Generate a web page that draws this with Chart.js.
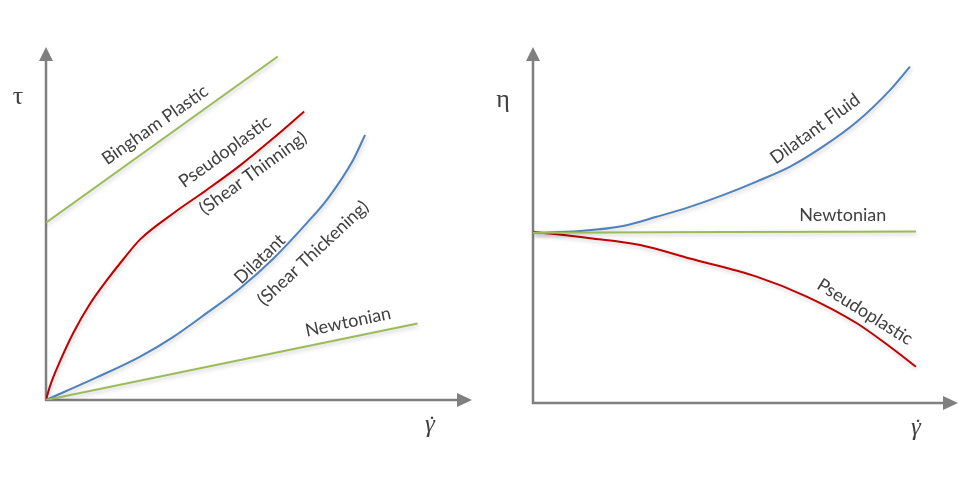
<!DOCTYPE html>
<html>
<head>
<meta charset="utf-8">
<script src="https://cdn.jsdelivr.net/npm/chart.js@4"></script>
<style>
  body { margin: 0; background: #fff; }
  .panel { position: absolute; top: 0; }
</style>
</head>
<body>
<div class="panel" style="left:0"><canvas id="stress" width="486" height="479"></canvas></div>
<div class="panel" style="left:486px"><canvas id="viscosity" width="487" height="479"></canvas></div>
<script>
// ---- data (arbitrary units, shear rate 0..10) ----
// left panel: shear stress vs shear rate
const stressNewtonianX = [0, 8.72];
const stressNewtonianY = [0, 2.17];
const binghamX = [0, 5.44];
const binghamY = [5.02, 9.73];
const pseudoX = [0, 0.09, 0.33, 0.64, 1.03, 1.42, 1.81, 2.21, 2.99, 3.77, 4.55, 5.34, 6.06];
const pseudoY = [0, 0.38, 1.10, 1.90, 2.72, 3.38, 3.98, 4.55, 5.29, 5.95, 6.64, 7.42, 8.17];
const dilatantX = [0, 1.19, 2.21, 2.99, 3.77, 4.55, 5.34, 6.12, 6.61, 7.21, 7.49];
const dilatantY = [0, 0.64, 1.23, 1.79, 2.46, 3.16, 4.01, 5.01, 5.70, 6.80, 7.51];

// right panel: viscosity vs shear rate
const viscNewtonianX = [0, 4.5, 9.01];
const viscNewtonianY = [4.78, 4.80, 4.82];
const viscDilatantX = [0, 1.11, 2.12, 2.91, 3.69, 4.47, 5.26, 6.05, 6.82, 7.62, 8.40, 8.87];
const viscDilatantY = [4.78, 4.83, 4.97, 5.23, 5.51, 5.84, 6.22, 6.64, 7.20, 7.90, 8.79, 9.45];
const viscPseudoX = [0, 1.34, 2.52, 3.69, 5.26, 6.44, 7.62, 8.40, 9.01];
const viscPseudoY = [4.81, 4.63, 4.44, 4.06, 3.55, 2.99, 2.24, 1.58, 1.02];

const GREEN = '#9bbb59', RED = '#c00000', BLUE = '#4f81bd', AXIS = '#7f7f7f', TEXT = '#404040';

function pts(xs, ys) {
    return xs.map((x, i) => ({ x: x, y: ys[i] }));
}

function series(label, xs, ys, color) {
    return {
        label: label,
        data: pts(xs, ys),
        borderColor: color,
        borderWidth: 2,
        pointRadius: 0,
        fill: false,
        tension: 0.4,
        cubicInterpolationMode: 'monotone'
    };
}

// axes with arrows, axis symbols, curve labels
const decor = {
    id: 'decor',
    beforeDatasetsDraw(chart, args, opts) {
        const { ctx, chartArea: a } = chart;
        ctx.save();
        ctx.strokeStyle = AXIS;
        ctx.fillStyle = AXIS;
        ctx.lineWidth = 2.5;
        ctx.beginPath();
        ctx.moveTo(a.left, a.bottom + 1);
        ctx.lineTo(a.left, a.top + 12);
        ctx.moveTo(a.left - 1, a.bottom);
        ctx.lineTo(a.right - 12, a.bottom);
        ctx.stroke();
        // arrow heads
        ctx.beginPath();
        ctx.moveTo(a.left, a.top);
        ctx.lineTo(a.left - 7, a.top + 14);
        ctx.lineTo(a.left + 7, a.top + 14);
        ctx.closePath();
        ctx.moveTo(a.right, a.bottom);
        ctx.lineTo(a.right - 15, a.bottom - 7);
        ctx.lineTo(a.right - 15, a.bottom + 7);
        ctx.closePath();
        ctx.fill();
        ctx.restore();

        // soft shadow under the curves
        ctx.save();
        ctx.shadowColor = 'rgba(0,0,0,0.22)';
        ctx.shadowBlur = 4;
        ctx.shadowOffsetX = 1;
        ctx.shadowOffsetY = 2;
    },
    afterDatasetsDraw(chart) {
        chart.ctx.restore();
    },
    afterDraw(chart, args, opts) {
        const { ctx, chartArea: a, scales: { x, y } } = chart;
        ctx.save();
        ctx.fillStyle = TEXT;
        ctx.textAlign = 'center';
        ctx.textBaseline = 'middle';
        // axis symbols
        ctx.font = '26px "Liberation Serif"';
        ctx.fillText(opts.yTitle, a.left - opts.yTitleDx, a.top + opts.yTitleDy);
        const gx = a.right - 42, gy = a.bottom + 25;
        ctx.font = 'italic 25px "Liberation Serif"';
        ctx.fillText('\u03B3', gx, gy);
        ctx.font = '24px "Liberation Serif"';
        ctx.fillText('\u02D9', gx + 2, gy + 1);
        // curve labels
        ctx.font = '18px Lato';
        opts.labels.forEach(l => {
            ctx.save();
            ctx.translate(x.getPixelForValue(l.x), y.getPixelForValue(l.y));
            ctx.rotate(l.angle * Math.PI / 180);
            ctx.fillText(l.text, 0, 0);
            ctx.restore();
        });
        ctx.restore();
    }
};

function makeChart(id, datasets, padding, decorOpts) {
    return new Chart(document.getElementById(id), {
        type: 'line',
        data: { datasets: datasets },
        options: {
            responsive: false,
            animation: false,
            layout: { padding: padding },
            scales: {
                x: { type: 'linear', min: 0, max: 10, display: false },
                y: { type: 'linear', min: 0, max: 10, display: false }
            },
            plugins: {
                legend: { display: false },
                tooltip: { enabled: false },
                decor: decorOpts
            }
        },
        plugins: [decor]
    });
}

makeChart('stress', [
    series('Newtonian', stressNewtonianX, stressNewtonianY, GREEN),
    series('Bingham Plastic', binghamX, binghamY, GREEN),
    series('Dilatant', dilatantX, dilatantY, BLUE),
    series('Pseudoplastic', pseudoX, pseudoY, RED)
], { left: 46, right: 14, top: 47, bottom: 79 }, {
    yTitle: '\u03C4', yTitleDx: 28, yTitleDy: 50,
    labels: [
        { text: 'Bingham Plastic', x: 2.56, y: 7.79, angle: -35 },
        { text: 'Pseudoplastic', x: 4.20, y: 7.03, angle: -36 },
        { text: '(Shear Thinning)', x: 4.86, y: 6.43, angle: -36 },
        { text: 'Dilatant', x: 5.02, y: 3.99, angle: -44 },
        { text: '(Shear Thickening)', x: 6.27, y: 4.16, angle: -43 },
        { text: 'Newtonian', x: 7.09, y: 2.21, angle: -12 }
    ]
});

makeChart('viscosity', [
    series('Newtonian', viscNewtonianX, viscNewtonianY, GREEN),
    series('Dilatant Fluid', viscDilatantX, viscDilatantY, BLUE),
    series('Pseudoplastic', viscPseudoX, viscPseudoY, RED)
], { left: 47, right: 15, top: 47, bottom: 76 }, {
    yTitle: '\u03B7', yTitleDx: 30, yTitleDy: 53,
    labels: [
        { text: 'Dilatant Fluid', x: 6.64, y: 7.70, angle: -36 },
        { text: 'Newtonian', x: 7.29, y: 5.28, angle: 0 },
        { text: 'Pseudoplastic', x: 7.81, y: 2.56, angle: 32 }
    ]
});
</script>
</body>
</html>
